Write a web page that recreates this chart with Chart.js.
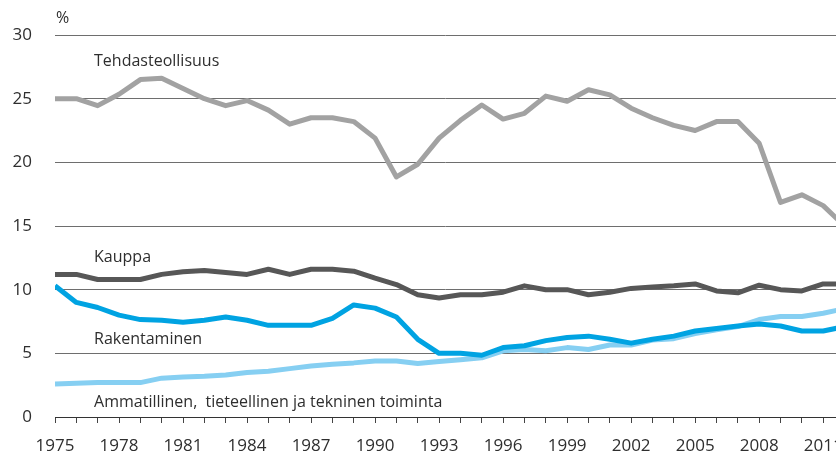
<!DOCTYPE html>
<html>
<head>
<meta charset="utf-8">
<script src="https://cdn.jsdelivr.net/npm/chart.js@4.4.1/dist/chart.umd.min.js"></script>
<style>
    html, body { margin: 0; padding: 0; background: #fff; }
    #wrap { width: 836px; height: 454px; position: relative; }
</style>
</head>
<body>
<div id="wrap"><canvas id="chart"></canvas></div>
<script>
// Osuus työllisistä toimialoittain, %
const years = [1975, 1976, 1977, 1978, 1979, 1980, 1981, 1982, 1983, 1984,
    1985, 1986, 1987, 1988, 1989, 1990, 1991, 1992, 1993, 1994,
    1995, 1996, 1997, 1998, 1999, 2000, 2001, 2002, 2003, 2004,
    2005, 2006, 2007, 2008, 2009, 2010, 2011, 2012];

const tehdasteollisuus = [25.0, 25.0, 24.45, 25.35, 26.5, 26.6, 25.8, 25.0, 24.45, 24.85,
    24.1, 23.0, 23.5, 23.5, 23.2, 21.9, 18.85, 19.85, 21.9, 23.3,
    24.5, 23.4, 23.85, 25.2, 24.8, 25.7, 25.3, 24.25, 23.5, 22.9,
    22.5, 23.2, 23.2, 21.5, 16.85, 17.45, 16.6, 15.0];

const kauppa = [11.2, 11.2, 10.8, 10.8, 10.8, 11.2, 11.4, 11.5, 11.35, 11.2,
    11.6, 11.2, 11.6, 11.6, 11.45, 10.9, 10.4, 9.6, 9.35, 9.6,
    9.6, 9.8, 10.3, 10.0, 10.0, 9.6, 9.8, 10.1, 10.2, 10.3,
    10.45, 9.9, 9.75, 10.35, 10.0, 9.9, 10.45, 10.45];

const rakentaminen = [10.3, 9.0, 8.6, 8.0, 7.65, 7.6, 7.45, 7.6, 7.85, 7.6,
    7.2, 7.2, 7.2, 7.75, 8.8, 8.55, 7.85, 6.1, 5.0, 5.0,
    4.85, 5.45, 5.6, 6.0, 6.25, 6.35, 6.1, 5.8, 6.1, 6.35,
    6.75, 6.95, 7.15, 7.3, 7.15, 6.75, 6.75, 7.1];

const ammatillinen = [2.6, 2.65, 2.7, 2.7, 2.7, 3.05, 3.15, 3.2, 3.3, 3.5,
    3.6, 3.8, 4.0, 4.15, 4.25, 4.4, 4.4, 4.2, 4.35, 4.5,
    4.65, 5.2, 5.3, 5.2, 5.45, 5.3, 5.65, 5.65, 6.05, 6.15,
    6.55, 6.85, 7.1, 7.65, 7.9, 7.9, 8.15, 8.5];

const yTicks = [0, 5, 10, 15, 20, 25, 30];

const seriesNames = ['Tehdasteollisuus', 'Kauppa', 'Rakentaminen',
    'Ammatillinen,  tieteellinen ja tekninen toiminta'];

// where the series names sit, in axis units (year, %)
const nameAnchors = [[1976.83, 27.95], [1976.83, 12.55], [1976.83, 6.1], [1976.83, 1.15]];

const textColor = '#2e2e2e';
const fontFamily = '"Open Sans", "Noto Sans", sans-serif';

function toPoints(values) {
    return values.map((v, i) => ({ x: years[i], y: v }));
}

const seriesLabels = {
    id: 'seriesLabels',
    afterDraw(chart) {
        const ctx = chart.ctx;
        const xs = chart.scales.x;
        const ys = chart.scales.y;
        ctx.save();
        ctx.fillStyle = textColor;
        ctx.font = '16px ' + fontFamily;
        ctx.textAlign = 'left';
        ctx.textBaseline = 'middle';
        seriesNames.forEach((name, i) => {
            const a = nameAnchors[i];
            ctx.fillText(name, xs.getPixelForValue(a[0]), ys.getPixelForValue(a[1]));
        });
        // unit above the value axis
        ctx.fillText('%', chart.chartArea.left + 1, ys.getPixelForValue(31.3));
        ctx.restore();
    }
};

const ctx = document.getElementById('chart');
new Chart(ctx, {
    type: 'line',
    data: {
        datasets: [
            {
                label: seriesNames[0],
                data: toPoints(tehdasteollisuus),
                borderColor: '#a2a2a2',
                order: 4
            },
            {
                label: seriesNames[1],
                data: toPoints(kauppa),
                borderColor: '#575757',
                order: 3
            },
            {
                label: seriesNames[3],
                data: toPoints(ammatillinen),
                borderColor: '#86cff2',
                order: 2
            },
            {
                label: seriesNames[2],
                data: toPoints(rakentaminen),
                borderColor: '#00a3e2',
                order: 1
            }
        ]
    },
    options: {
        responsive: true,
        maintainAspectRatio: false,
        animation: false,
        datasets: {
            line: {
                borderWidth: 5,
                pointRadius: 0,
                tension: 0,
                borderJoinStyle: 'round',
                borderCapStyle: 'butt'
            }
        },
        layout: { padding: { top: 35, left: 0, right: 0, bottom: 0 } },
        plugins: {
            legend: { display: false },
            tooltip: { enabled: false }
        },
        scales: {
            x: {
                type: 'linear',
                min: 1975,
                max: 2011.6,
                afterBuildTicks(scale) {
                    scale.ticks = years.filter(y => y <= 2011).map(y => ({ value: y }));
                },
                afterFit(scale) {
                    scale.height = 37;
                    scale.paddingLeft = 0;
                    scale.paddingRight = 0;
                },
                grid: {
                    drawOnChartArea: false,
                    drawTicks: true,
                    tickLength: 6,
                    color: '#444444',
                    lineWidth: 1
                },
                border: { display: true, color: '#333333', width: 1 },
                ticks: {
                    autoSkip: false,
                    maxRotation: 0,
                    padding: 13,
                    color: textColor,
                    font: { family: fontFamily, size: 17 },
                    callback: v => ((v - 1975) % 3 === 0 ? String(v) : '')
                }
            },
            y: {
                min: 0,
                max: 30,
                afterBuildTicks(scale) {
                    scale.ticks = yTicks.map(v => ({ value: v }));
                },
                afterFit(scale) {
                    scale.width = 55;
                },
                grid: {
                    drawTicks: false,
                    color: '#6e6e6e',
                    lineWidth: 1
                },
                border: { display: false },
                ticks: {
                    padding: 23,
                    color: textColor,
                    font: { family: fontFamily, size: 17 }
                }
            }
        }
    },
    plugins: [seriesLabels]
});
</script>
</body>
</html>
